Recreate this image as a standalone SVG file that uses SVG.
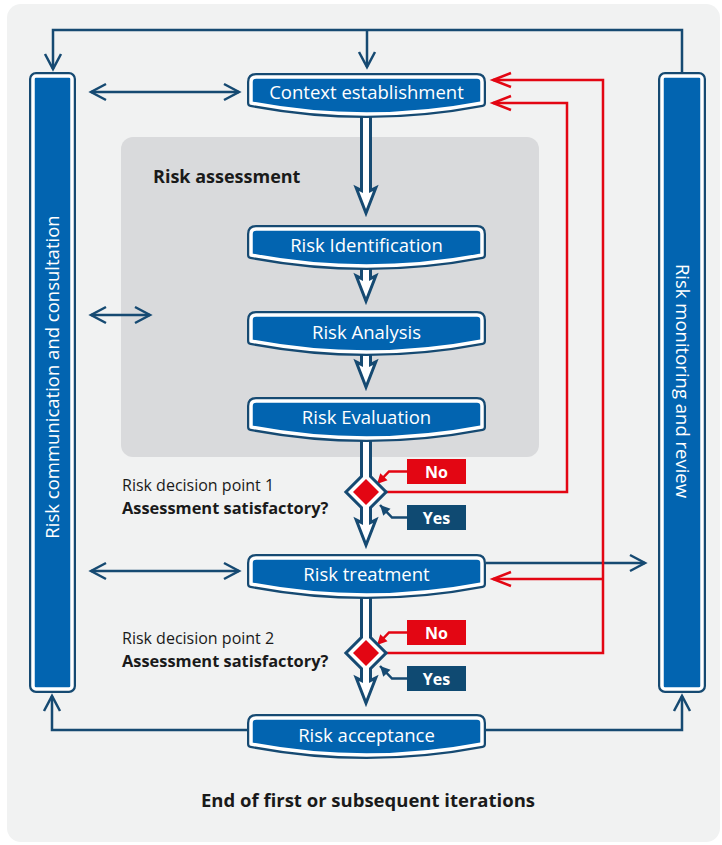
<svg xmlns="http://www.w3.org/2000/svg" xmlns:xlink="http://www.w3.org/1999/xlink" width="722" height="845" viewBox="0 0 722 845">
<style>
.o{fill:none;stroke:#164a72;stroke-width:8;stroke-linejoin:round}
.i{fill:#0264b0;stroke:#ffffff;stroke-width:3.5;stroke-linejoin:round}
.nt{font-family:"Open Sans","Liberation Sans",sans-serif;font-size:18.5px;fill:#ffffff;text-anchor:middle}
.lt{font-family:"Open Sans","Liberation Sans",sans-serif;font-size:16px;fill:#1a1a1a}
.bt{font-family:"Open Sans","Liberation Sans",sans-serif;font-size:16.4px;font-weight:bold;fill:#1a1a1a}
.yn{font-family:"Open Sans","Liberation Sans",sans-serif;font-size:16px;font-weight:bold;fill:#ffffff;text-anchor:middle}
.bl{fill:none;stroke:#164a72;stroke-width:2.5}
.rd{fill:none;stroke:#e30613;stroke-width:2.5}
</style>
<defs>
<marker id="ab" markerUnits="userSpaceOnUse" viewBox="-20 -11 24 22" refX="0" refY="0" markerWidth="24" markerHeight="22" orient="auto-start-reverse">
<path d="M-15,-8 L0,0 L-15,8" fill="none" stroke="#164a72" stroke-width="2.5"/>
</marker>
<marker id="ar" markerUnits="userSpaceOnUse" viewBox="-22 -11 26 22" refX="0" refY="0" markerWidth="26" markerHeight="22" orient="auto">
<path d="M-18,-7 L0,0 L-18,7" fill="none" stroke="#e30613" stroke-width="2.5"/>
</marker>
<marker id="fr" markerUnits="userSpaceOnUse" viewBox="-12 -7 14 14" refX="0" refY="0" markerWidth="14" markerHeight="14" orient="auto">
<path d="M-10,-5 L0,0 L-10,5 Z" fill="#e30613"/>
</marker>
<marker id="fb" markerUnits="userSpaceOnUse" viewBox="-12 -7 14 14" refX="0" refY="0" markerWidth="14" markerHeight="14" orient="auto">
<path d="M-10,-5 L0,0 L-10,5 Z" fill="#164a72"/>
</marker>
<path id="shape" d="M0,5 Q0,0 5,0 H226 Q231,0 231,5 V26 Q115.5,48 0,26 Z"/>
<g id="spine">
<polygon points="363,108 363,193 359,191 366,209 373,191 369,193 369,108"/>
<polygon points="363,262 363,281 359,279 366,297 373,279 369,281 369,262"/>
<polygon points="363,348 363,367 359,365 366,383 373,365 369,367 369,348"/>
<polygon points="363,434 363,525 359,523 366,541 373,523 369,525 369,434"/>
<polygon points="366,474 384,492 366,510 348,492"/>
<polygon points="363,591 363,683 359,681 366,699 373,681 369,683 369,591"/>
<polygon points="366,635 384,653 366,671 348,653"/>
</g>
</defs>

<rect x="0" y="0" width="722" height="845" fill="#ffffff"/>
<rect x="7" y="4" width="713" height="838" rx="14" fill="#f1f2f2"/>
<rect x="121" y="137" width="418" height="320" rx="12" fill="#d9dadc"/>
<text class="bt" x="153" y="183" style="font-size:18px">Risk assessment</text>

<g id="connectors">
<path class="bl" d="M682,72 V30 H53 V69" marker-end="url(#ab)"/>
<path class="bl" d="M367,30 V67" marker-end="url(#ab)"/>
<path class="bl" d="M91,92 H239" marker-start="url(#ab)" marker-end="url(#ab)"/>
<path class="bl" d="M91,315 H150" marker-start="url(#ab)" marker-end="url(#ab)"/>
<path class="bl" d="M91,571 H239" marker-start="url(#ab)" marker-end="url(#ab)"/>
<path class="bl" d="M486,563 H645" marker-end="url(#ab)"/>
<path class="bl" d="M247,730 H52 V696" marker-end="url(#ab)"/>
<path class="bl" d="M486,730 H682 V696" marker-end="url(#ab)"/>
<path class="rd" d="M385,492 H567 V103 H493" marker-end="url(#ar)"/>
<path class="rd" d="M385,653 H603 V80 H493" marker-end="url(#ar)"/>
<path class="rd" d="M603,579 H493" marker-end="url(#ar)"/>
<path class="rd" d="M407,471.5 H389 L377,484" marker-end="url(#fr)"/>
<path class="rd" d="M407,632.5 H389 L377,645" marker-end="url(#fr)"/>
<path class="bl" d="M407,517.5 H392 L380,505" marker-end="url(#fb)"/>
<path class="bl" d="M407,678.5 H392 L380,666" marker-end="url(#fb)"/>
<use xlink:href="#spine" fill="none" stroke="#164a72" stroke-width="6" stroke-linejoin="miter"/>
<use xlink:href="#spine" fill="#ffffff"/>
</g>

<g id="bar-communication">
<rect class="o" x="33" y="76" width="39" height="613" rx="3"/>
<rect class="i" x="33" y="76" width="39" height="613" rx="3"/>
<text class="nt" transform="translate(52.5,377) rotate(-90)" y="6.5">Risk communication and consultation</text>
</g>
<g id="bar-monitoring">
<rect class="o" x="662" y="76" width="40" height="613" rx="3"/>
<rect class="i" x="662" y="76" width="40" height="613" rx="3"/>
<text class="nt" transform="translate(682,381) rotate(90)" y="6.5">Risk monitoring and review</text>
</g>

<g id="context">
<use xlink:href="#shape" class="o" transform="translate(251,77)"/>
<use xlink:href="#shape" class="i" transform="translate(251,77)"/>
<text class="nt" x="366.5" y="98.5">Context establishment</text>
</g>
<g id="identification">
<use xlink:href="#shape" class="o" transform="translate(251,229)"/>
<use xlink:href="#shape" class="i" transform="translate(251,229)"/>
<text class="nt" x="366.5" y="251.5">Risk Identification</text>
</g>
<g id="analysis">
<use xlink:href="#shape" class="o" transform="translate(251,315)"/>
<use xlink:href="#shape" class="i" transform="translate(251,315)"/>
<text class="nt" x="366.5" y="338.5">Risk Analysis</text>
</g>
<g id="evaluation">
<use xlink:href="#shape" class="o" transform="translate(251,401)"/>
<use xlink:href="#shape" class="i" transform="translate(251,401)"/>
<text class="nt" x="366.5" y="423.5">Risk Evaluation</text>
</g>
<g id="treatment">
<use xlink:href="#shape" class="o" transform="translate(251,558)"/>
<use xlink:href="#shape" class="i" transform="translate(251,558)"/>
<text class="nt" x="366.5" y="580.5">Risk treatment</text>
</g>
<g id="acceptance">
<use xlink:href="#shape" class="o" transform="translate(251,718)"/>
<use xlink:href="#shape" class="i" transform="translate(251,718)"/>
<text class="nt" x="366.5" y="741.5">Risk acceptance</text>
</g>

<g id="decision1">
<polygon points="366,479 379,492 366,505 353,492" fill="#e30613"/>
<text class="lt" x="122" y="491">Risk decision point 1</text>
<text class="bt" x="122" y="514">Assessment satisfactory?</text>
</g>
<g id="decision2">
<polygon points="366,640 379,653 366,666 353,653" fill="#e30613"/>
<text class="lt" x="122" y="644">Risk decision point 2</text>
<text class="bt" x="122" y="667">Assessment satisfactory?</text>
</g>

<g id="no1"><rect x="407" y="459" width="59" height="25" fill="#e30613"/><text class="yn" x="436.5" y="477.5">No</text></g>
<g id="yes1"><rect x="407" y="505" width="59" height="25" fill="#0f4a72"/><text class="yn" x="436.5" y="523.5">Yes</text></g>
<g id="no2"><rect x="407" y="620" width="59" height="25" fill="#e30613"/><text class="yn" x="436.5" y="638.5">No</text></g>
<g id="yes2"><rect x="407" y="666" width="59" height="25" fill="#0f4a72"/><text class="yn" x="436.5" y="684.5">Yes</text></g>

<text class="bt" x="368" y="807" text-anchor="middle" style="font-size:18.5px">End of first or subsequent iterations</text>
</svg>
